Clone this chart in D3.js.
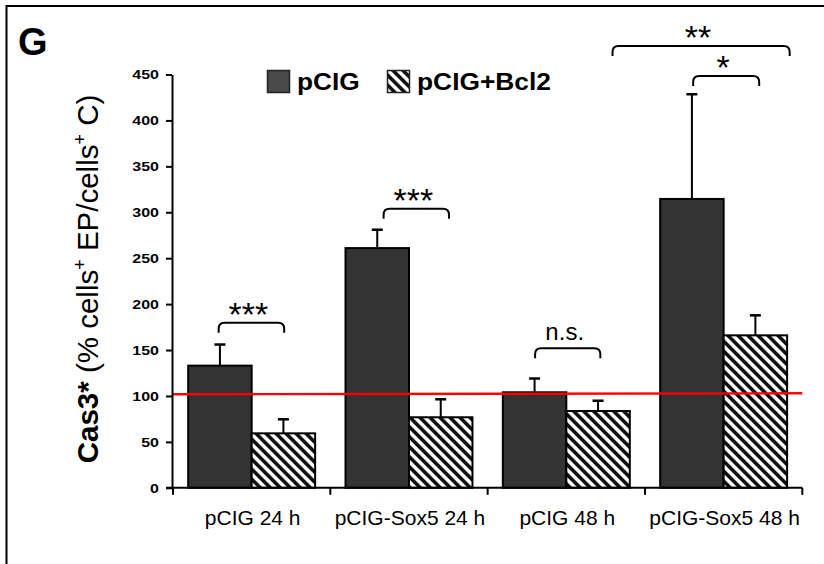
<!DOCTYPE html>
<html><head><meta charset="utf-8">
<script src="https://cdn.jsdelivr.net/npm/d3@7"></script>
<style>
html,body{margin:0;padding:0;background:#fff;}
svg{display:block;font-family:"Liberation Sans",Arial,sans-serif;}
</style></head>
<body>
<svg id="chart" width="824" height="564"></svg>
<script>
// ---- data ----
const categories = ["pCIG 24 h", "pCIG-Sox5 24 h", "pCIG 48 h", "pCIG-Sox5 48 h"];
const seriesNames = ["pCIG", "pCIG+Bcl2"];
const pcigValues = [133, 261, 104, 314.5];
const pcigErrors = [23, 20, 15, 114];
const bcl2Values = [59.3, 76.8, 83.6, 166];
const bcl2Errors = [15.3, 19.6, 11.2, 21.8];
const yTicks = [0, 50, 100, 150, 200, 250, 300, 350, 400, 450];
const referenceLine = [101.8, 102.9];           // value at left and right end
const bracketFrom = [[0, 0.24], [1, 0.30], [2, 0.254], [3, 0.26], [2, 0.864]];
const bracketTo   = [[0, 0.756], [1, 0.815], [2, 0.768], [3, 0.78], [3, 1.02]];
const bracketLevel = [179.8, 303.9, 151.9, 448.4, 481];
const bracketLabel = ["***", "***", "n.s.", "*", "**"];

// ---- setup ----
const svg = d3.select("#chart");
const defs = svg.append("defs");
const pat = defs.append("pattern").attr("id", "hatch")
  .attr("patternUnits", "userSpaceOnUse").attr("width", 7.07).attr("height", 10)
  .attr("patternTransform", "rotate(-45)");
pat.append("rect").attr("width", 7.07).attr("height", 10).attr("fill", "#fff");
pat.append("rect").attr("width", 3.6).attr("height", 10).attr("fill", "#111");

// frame
svg.append("rect").attr("x", 6.5).attr("y", 6).attr("width", 900).attr("height", 700)
  .attr("fill", "none").attr("stroke", "#000").attr("stroke-width", 2);

// panel letter
svg.append("text").attr("x", 18).attr("y", 55).attr("font-size", 38).attr("font-weight", "bold").text("G");

const x0 = d3.scaleBand().domain(categories).range([173, 802.3]).paddingInner(0.193).paddingOuter(0.0965);
const x1 = d3.scaleBand().domain(seriesNames).range([0, x0.bandwidth()]);
const y = d3.scaleLinear().domain([0, 450]).range([487.8, 74.5]);

const rows = categories.map((c, i) => ({
  cat: c,
  vals: [
    {s: seriesNames[0], v: pcigValues[i], e: pcigErrors[i]},
    {s: seriesNames[1], v: bcl2Values[i], e: bcl2Errors[i]}
  ]
}));

// error bars
const g = svg.append("g");
rows.forEach(r => {
  r.vals.forEach(d => {
    const cx = x0(r.cat) + x1(d.s) + x1.bandwidth() / 2;
    g.append("line").attr("x1", cx).attr("x2", cx).attr("y1", y(d.v)).attr("y2", y(d.v + d.e))
      .attr("stroke", "#000").attr("stroke-width", 2);
    g.append("line").attr("x1", cx - 5.5).attr("x2", cx + 5.5).attr("y1", y(d.v + d.e)).attr("y2", y(d.v + d.e))
      .attr("stroke", "#000").attr("stroke-width", 2.5);
  });
});

// bars
rows.forEach(r => {
  g.selectAll(null).data(r.vals).enter().append("rect")
    .attr("x", d => x0(r.cat) + x1(d.s))
    .attr("y", d => y(d.v))
    .attr("width", x1.bandwidth())
    .attr("height", d => y(0) - y(d.v))
    .attr("fill", (d, i) => i === 0 ? "#333333" : "url(#hatch)")
    .attr("stroke", "#000").attr("stroke-width", 2);
});

// reference line
svg.append("line").attr("x1", 173).attr("x2", 802.3)
  .attr("y1", y(referenceLine[0])).attr("y2", y(referenceLine[1]))
  .attr("stroke", "#ff0000").attr("stroke-width", 2.4);

// y axis
const yAxis = svg.append("g").attr("transform", "translate(172,0)")
  .call(d3.axisLeft(y).tickValues(yTicks).tickSize(6).tickPadding(7).tickSizeOuter(0));
yAxis.select(".domain").attr("stroke-width", 2);
yAxis.selectAll(".tick line").attr("stroke-width", 2);
yAxis.selectAll(".tick text").attr("font-size", 13.5).attr("font-weight", "bold")
  .attr("font-family", "Liberation Sans, Arial, sans-serif").attr("fill", "#000")
  .attr("textLength", d => String(d).length * 8.9).attr("lengthAdjust", "spacingAndGlyphs");

// x axis
const xAxis = svg.append("g").attr("transform", `translate(0,${y(0)})`);
xAxis.append("line").attr("x1", 166).attr("x2", 802.3).attr("y1", 0).attr("y2", 0)
  .attr("stroke", "#000").attr("stroke-width", 2);
const bounds = categories.map(c => x0(c) - x0.step() * x0.paddingOuter()).concat([802.3]);
xAxis.selectAll(".xt").data(bounds).enter().append("line")
  .attr("x1", d => d).attr("x2", d => d).attr("y1", 0).attr("y2", 7)
  .attr("stroke", "#000").attr("stroke-width", 2);
xAxis.selectAll(".xl").data(categories).enter().append("text")
  .attr("x", d => x0(d) + x0.bandwidth() / 2 + 1).attr("y", 37)
  .attr("text-anchor", "middle").attr("font-size", 21).text(d => d);

// brackets
bracketLabel.forEach((lab, i) => {
  const xa = x0(categories[bracketFrom[i][0]]) + bracketFrom[i][1] * x0.bandwidth();
  const xb = x0(categories[bracketTo[i][0]]) + bracketTo[i][1] * x0.bandwidth();
  const yt = y(bracketLevel[i]);
  const r = 6, d = 10;
  const p = `M${xa},${yt + d} L${xa},${yt + r} Q${xa},${yt} ${xa + r},${yt} L${xb - r},${yt} Q${xb},${yt} ${xb},${yt + r} L${xb},${yt + d}`;
  svg.append("path").attr("d", p).attr("fill", "none").attr("stroke", "#000").attr("stroke-width", 2);
  const isStar = lab.indexOf("*") >= 0;
  svg.append("text").attr("x", (xa + xb) / 2 - 3).attr("y", isStar ? yt + 3 : yt - 8)
    .attr("text-anchor", "middle").attr("font-size", isStar ? 34 : 24).text(lab);
});

// legend
const leg = svg.append("g");
seriesNames.forEach((s, i) => {
  const lx = [267.5, 387.5][i];
  leg.append("rect").attr("x", lx).attr("y", 70.5).attr("width", 22).attr("height", 22)
    .attr("fill", i === 0 ? "#4a4a4a" : "url(#hatch)").attr("stroke", "#222").attr("stroke-width", 1.5);
  leg.append("text").attr("x", lx + 29.5).attr("y", 90).attr("font-size", 24).attr("font-weight", "bold")
    .attr("textLength", [62.7, 134][i]).attr("lengthAdjust", "spacingAndGlyphs").text(s);
});

// y label
const yl = svg.append("text").attr("transform", "translate(98,279) rotate(-90)")
  .attr("text-anchor", "middle").attr("font-size", 29.5);
yl.append("tspan").attr("font-weight", "bold").text("Cas3*");
yl.append("tspan").text(" (% cells");
yl.append("tspan").attr("font-size", 18).attr("dy", -12).text("+");
yl.append("tspan").attr("dy", 12).text(" EP/cells");
yl.append("tspan").attr("font-size", 18).attr("dy", -12).text("+");
yl.append("tspan").attr("dy", 12).text(" C)");
</script>
</body></html>
